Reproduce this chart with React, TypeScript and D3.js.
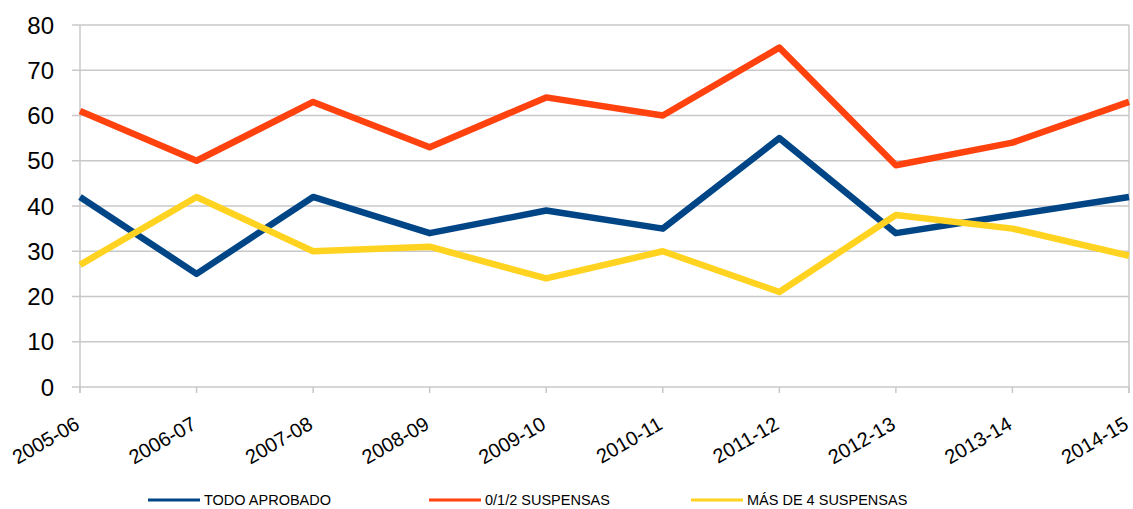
import React from "react";
import * as d3 from "d3";

const categories = ["2005-06", "2006-07", "2007-08", "2008-09", "2009-10", "2010-11", "2011-12", "2012-13", "2013-14", "2014-15"];
const todoAprobado = [42, 25, 42, 34, 39, 35, 55, 34, 38, 42];
const suspensas012 = [61, 50, 63, 53, 64, 60, 75, 49, 54, 63];
const masDe4 = [27, 42, 30, 31, 24, 30, 21, 38, 35, 29];
const yTicks = [0, 10, 20, 30, 40, 50, 60, 70, 80];

const series = [
  { name: "TODO APROBADO", values: todoAprobado, color: "#004586", legendX: 148 },
  { name: "0/1/2 SUSPENSAS", values: suspensas012, color: "#ff420e", legendX: 429 },
  { name: "MÁS DE 4 SUSPENSAS", values: masDe4, color: "#ffd320", legendX: 691 },
];

const width = 1133;
const height = 509;
const left = 80;
const right = 1129;
const top = 25;
const bottom = 387;

export default function App() {
  const x = d3.scalePoint<string>().domain(categories).range([left, right]);
  const y = d3.scaleLinear().domain([0, 80]).range([bottom, top]);
  const line = d3
    .line<number>()
    .x((_, i) => x(categories[i])!)
    .y((d) => y(d));

  return (
    <svg
      width={width}
      height={height}
      style={{ position: "absolute", left: 0, top: 0, fontFamily: "'Liberation Sans', Arial, sans-serif" }}
    >
      <rect width={width} height={height} fill="#fff" />
      {/* grid */}
      {yTicks.map((t) => (
        <g key={t}>
          <line x1={left - 8} x2={right} y1={y(t)} y2={y(t)} stroke="#c8c8c8" strokeWidth={1.5} />
          <text x={54} y={y(t)} textAnchor="end" dominantBaseline="central" fontSize={24} fill="#000">
            {t}
          </text>
        </g>
      ))}
      <line x1={left} x2={left} y1={top} y2={bottom + 6} stroke="#c8c8c8" strokeWidth={1.5} />
      <line x1={right} x2={right} y1={top} y2={bottom + 6} stroke="#c8c8c8" strokeWidth={1.5} />
      {categories.map((c) => (
        <g key={c}>
          <line x1={x(c)} x2={x(c)} y1={bottom} y2={bottom + 6} stroke="#c8c8c8" strokeWidth={1.5} />
          <text
            transform={`translate(${x(c)! + 1},${bottom + 41}) rotate(-30)`}
            textAnchor="end"
            fontSize={20}
            fill="#000"
          >
            {c}
          </text>
        </g>
      ))}
      {/* lines */}
      {series.map((s) => (
        <path
          key={s.name}
          d={line(s.values)!}
          fill="none"
          stroke={s.color}
          strokeWidth={6.5}
          strokeLinejoin="round"
        />
      ))}
      {/* legend */}
      {series.map((s) => (
        <g key={s.name + "-legend"}>
          <line x1={s.legendX} x2={s.legendX + 52} y1={500} y2={500} stroke={s.color} strokeWidth={3} />
          <text x={s.legendX + 56} y={500} dominantBaseline="central" fontSize={14.5} fill="#000">
            {s.name}
          </text>
        </g>
      ))}
    </svg>
  );
}
